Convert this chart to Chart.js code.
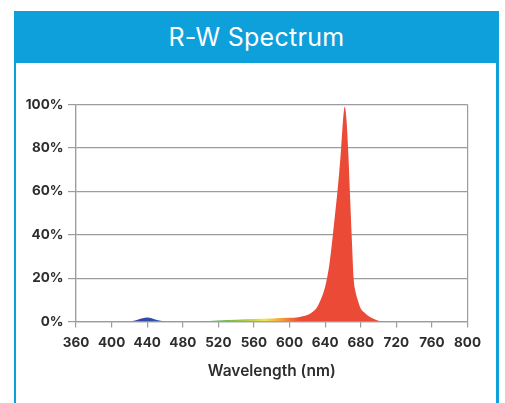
<!DOCTYPE html>
<html>
<head>
<meta charset="utf-8">
<script src="https://cdn.jsdelivr.net/npm/chart.js@4.4.1/dist/chart.umd.min.js"></script>
<style>
  html, body { margin: 0; padding: 0; background: #fff; }
  body { width: 505px; height: 403px; overflow: hidden; position: relative; }
  .frame {
    position: absolute; left: 14px; top: 11px; width: 485px; height: 400px;
    box-sizing: border-box; border-left: 2px solid #0ea0db; border-right: 3px solid #0ea0db;
  }
  .header {
    position: absolute; left: 14px; top: 11px; width: 485px; height: 52px;
    background: #0ea0db; color: #fff; text-align: center;
    font: 400 25px "Inter", sans-serif; line-height: 52px; letter-spacing: 0.3px;
  }
  .wrap { position: absolute; left: 18px; top: 64px; width: 476px; height: 339px; }
</style>
</head>
<body>
<div class="frame"></div>
<div class="header">R-W Spectrum</div>
<div class="wrap"><canvas id="spectrum"></canvas></div>
<script>
// wavelength (nm) and relative intensity (%)
const wavelengths = [360, 420, 425, 430, 435, 440, 445, 450, 455, 460, 480, 500, 520, 540, 560, 580, 600, 610, 615, 620, 625, 630, 635, 640, 645, 650, 655, 658, 660, 662, 664, 666, 668, 670, 672, 674, 677, 680, 685, 690, 695, 700, 705, 710, 800];
const intensity   = [0, 0, 0.3, 0.9, 1.5, 1.8, 1.5, 0.8, 0.3, 0.1, 0.05, 0.15, 0.5, 0.8, 1.1, 1.4, 1.7, 2.0, 2.4, 3.0, 4.2, 6.0, 10, 16, 27, 45, 65, 80, 92, 99, 93, 78, 58, 38, 20, 14, 9.5, 6, 3.8, 2.2, 1.2, 0.4, 0.1, 0, 0];
const xTicks = [360, 400, 440, 480, 520, 560, 600, 640, 680, 720, 760, 800];
const yTicks = [0, 20, 40, 60, 80, 100];

// colour of the fill by wavelength
const colourStops = [
    [420, '#3a3f9c'],
    [445, '#2f4ea6'],
    [470, '#2a6fae'],
    [495, '#2b9e96'],
    [520, '#5db54a'],
    [545, '#9cc643'],
    [572, '#ece64a'],
    [590, '#f5a33a'],
    [603, '#ef6a34'],
    [612, '#ea4a36'],
    [800, '#ea4a36'],
];

const gridGrey = '#9c9c9c';
const textColour = '#2d2d2d';

const ctx = document.getElementById('spectrum').getContext('2d');

new Chart(ctx, {
    type: 'line',
    data: {
        datasets: [{
            data: wavelengths.map((w, i) => ({ x: w, y: intensity[i] })),
            fill: 'origin',
            borderWidth: 0,
            pointRadius: 0,
            cubicInterpolationMode: 'monotone',
            backgroundColor: function (context) {
                const chart = context.chart;
                const { chartArea, scales } = chart;
                if (!chartArea) return '#ea4a36';
                const x0 = scales.x.getPixelForValue(360);
                const x1 = scales.x.getPixelForValue(800);
                const g = chart.ctx.createLinearGradient(x0, 0, x1, 0);
                colourStops.forEach(([w, c]) => g.addColorStop((w - 360) / 440, c));
                return g;
            },
        }],
    },
    options: {
        animation: false,
        responsive: true,
        maintainAspectRatio: false,
        layout: { padding: { left: 0, right: 26.5, top: 40.5, bottom: 0 } },
        plugins: {
            legend: { display: false },
            tooltip: { enabled: false },
        },
        scales: {
            x: {
                type: 'linear',
                min: 360,
                max: 800,
                afterBuildTicks: (scale) => { scale.ticks = xTicks.map(v => ({ value: v })); },
                afterFit: (scale) => { scale.height = 81.5; },
                grid: {
                    color: (c) => (c.tick && (c.tick.value === 800 || c.tick.value === 360)) ? gridGrey : 'rgba(0,0,0,0)',
                    tickColor: gridGrey,
                    tickLength: 6,
                    lineWidth: 1.2,
                },
                border: { display: true, color: gridGrey, width: 1.2 },
                ticks: {
                    color: textColour,
                    padding: 7,
                    maxRotation: 0,
                    font: { family: "'Inter', sans-serif", size: 13.5, weight: '700' },
                },
                title: {
                    display: true,
                    text: 'Wavelength (nm)',
                    color: textColour,
                    padding: { top: 0, bottom: 22 },
                    font: { family: "'Inter', sans-serif", size: 15.5, weight: '600' },
                },
            },
            y: {
                min: 0,
                max: 100,
                afterBuildTicks: (scale) => { scale.ticks = yTicks.map(v => ({ value: v })); },
                afterFit: (scale) => { scale.width = 58; },
                grid: { color: gridGrey, tickLength: 8, lineWidth: 1.2 },
                border: { display: true, color: gridGrey, width: 1.2 },
                ticks: {
                    color: textColour,
                    padding: 4.5,
                    font: { family: "'Inter', sans-serif", size: 13.5, weight: '700' },
                    callback: (v) => v + '%',
                },
            },
        },
    },
});
</script>
</body>
</html>
